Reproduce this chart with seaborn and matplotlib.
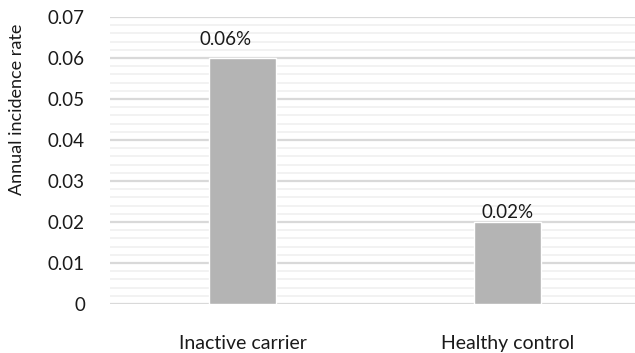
import matplotlib
matplotlib.use("Agg")
import matplotlib.pyplot as plt
from matplotlib.ticker import MultipleLocator
import seaborn as sns
import pandas as pd

groups = ["Inactive carrier", "Healthy control"]
rates = [0.06, 0.02]
value_labels = ["0.06%", "0.02%"]

sns.set_theme(style="white")
plt.rcParams["font.family"] = ["Lato", "DejaVu Sans"]

df = pd.DataFrame({"group": groups, "rate": rates})

fig = plt.figure(figsize=(6.35, 3.53), dpi=100)
ax = fig.add_axes([110 / 635, 1 - 304 / 353, (640 - 110) / 635, (304 - 17) / 353])

sns.barplot(data=df, x="group", y="rate", color="#b4b4b4", width=0.25,
            saturation=1, ax=ax, zorder=3)

ax.set_ylim(0, 0.07)
ax.set_xlim(-0.5, 1.5)
ax.yaxis.set_major_locator(MultipleLocator(0.01))
ax.yaxis.set_minor_locator(MultipleLocator(0.002))
ax.grid(axis="y", which="major", color="#d9d9d9", linewidth=1.6, zorder=0)
ax.grid(axis="y", which="minor", color="#f2f2f2", linewidth=1.4, zorder=0)
ax.set_axisbelow(True)

for s in ax.spines.values():
    s.set_visible(False)

ax.set_yticks([0, 0.01, 0.02, 0.03, 0.04, 0.05, 0.06, 0.07])
ax.set_yticklabels(["0", "0.01", "0.02", "0.03", "0.04", "0.05", "0.06", "0.07"])
ax.tick_params(axis="y", which="both", length=0, pad=18, labelsize=13.5, labelcolor="#1a1a1a")
ax.tick_params(axis="x", length=0, pad=22, labelsize=14, labelcolor="#1a1a1a")

ax.set_xlabel("")
ax.set_ylabel("Annual incidence rate", fontsize=13, color="#1a1a1a")
ax.yaxis.set_label_coords(-0.16, 0.68)

# per-label nudges: the first sits left of and above its bar, the second rests on it
label_dx = [-12, 0]
label_dy = [7, 1]
for i, (v, lab) in enumerate(zip(rates, value_labels)):
    ax.annotate(lab, (i, v), xytext=(label_dx[i], label_dy[i]), textcoords="offset points",
                ha="center", va="bottom", fontsize=13.5, color="#1a1a1a")

fig.savefig("out.png", dpi=100)
